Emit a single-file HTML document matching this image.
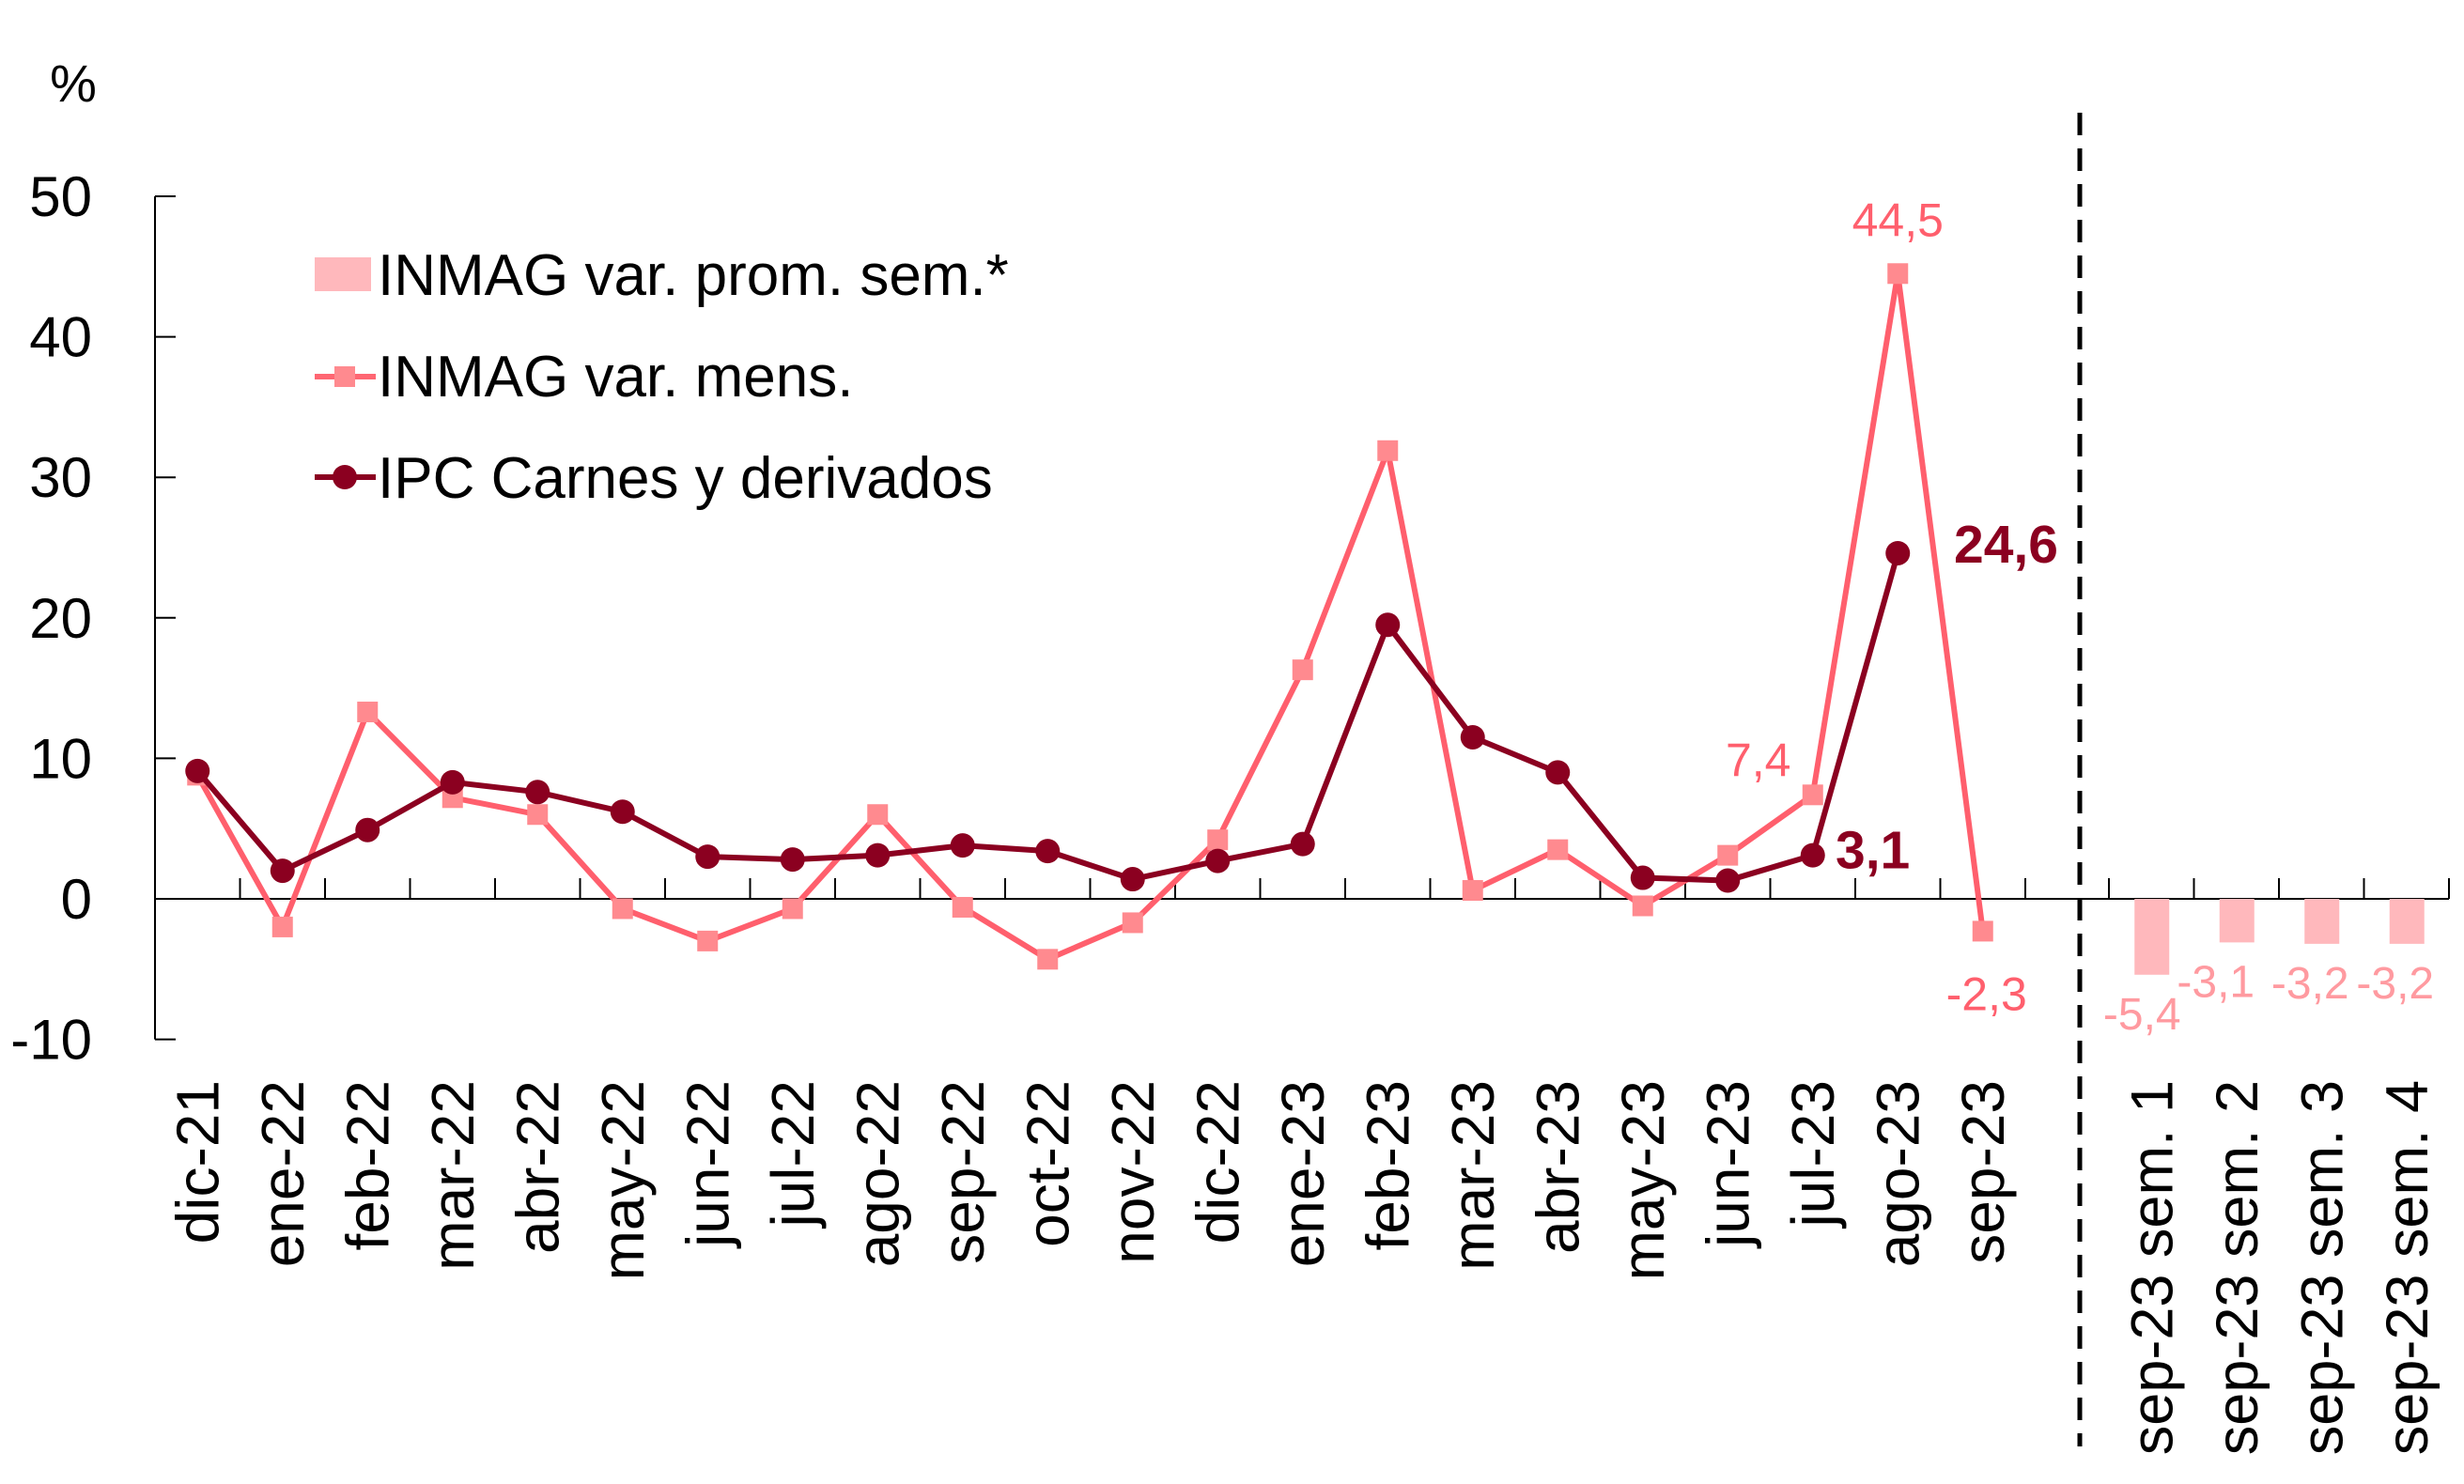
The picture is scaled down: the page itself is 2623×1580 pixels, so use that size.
<!DOCTYPE html>
<html><head><meta charset="utf-8">
<style>
html,body{margin:0;padding:0;background:#fff;}
svg{display:block;font-family:"Liberation Sans",sans-serif;}
</style></head>
<body>
<svg id="chart" width="2623" height="1580" viewBox="0 0 2623 1580" xmlns="http://www.w3.org/2000/svg">
<text x="78" y="108" font-size="56" text-anchor="middle">%</text>
<g id="axes"></g>
<g id="marks"></g>
<g>
  <rect x="335" y="274" width="60" height="36" fill="#ffb8bc"/>
  <text x="402" y="314" font-size="62">INMAG var. prom. sem.*</text>
  <line x1="335" y1="401" x2="400" y2="401" stroke="#ff6672" stroke-width="6"/>
  <rect x="356" y="390" width="22" height="22" fill="#ff8a8f"/>
  <text x="402" y="422" font-size="62">INMAG var. mens.</text>
  <line x1="335" y1="508" x2="400" y2="508" stroke="#8b0020" stroke-width="6"/>
  <circle cx="367" cy="508" r="13" fill="#8b0020"/>
  <text x="402" y="530" font-size="62">IPC Carnes y derivados</text>
</g>
</svg>
<script>
const months = ["dic-21","ene-22","feb-22","mar-22","abr-22","may-22","jun-22","jul-22","ago-22","sep-22","oct-22","nov-22","dic-22","ene-23","feb-23","mar-23","abr-23","may-23","jun-23","jul-23","ago-23","sep-23"];
const inmagMens = [8.8,-2.0,13.3,7.2,6.0,-0.7,-3.0,-0.7,6.0,-0.6,-4.3,-1.7,4.2,16.3,31.9,0.6,3.5,-0.5,3.1,7.4,44.5,-2.3];
const ipcCarnes = [9.1,2.0,4.9,8.3,7.6,6.2,3.0,2.8,3.1,3.8,3.4,1.4,2.7,3.9,19.5,11.5,9.0,1.5,1.3,3.1,24.6,null];
const weeks = ["sep-23 sem. 1","sep-23 sem. 2","sep-23 sem. 3","sep-23 sem. 4"];
const weeklyValues = [-5.4,-3.1,-3.2,-3.2];
const weeklyLabels = ["-5,4","-3,1","-3,2","-3,2"];
const yTicks = [50,40,30,20,10,0,-10];

const NS="http://www.w3.org/2000/svg";
const X0=165, STEP=90.5, Y0=957, PX=14.96;
const y=v=>Y0-v*PX;
const xm=i=>X0+STEP*(i+0.5);
const xw=i=>2245+STEP*(i+0.5);
function mk(tag,attrs,parent,text){const e=document.createElementNS(NS,tag);for(const k in attrs)e.setAttribute(k,attrs[k]);if(text!==undefined)e.textContent=text;parent.appendChild(e);return e;}
const axes=document.getElementById('axes'), marks=document.getElementById('marks');

let e=mk('line',{x1:X0,y1:y(50),x2:X0,y2:y(-10),stroke:'#000','stroke-width':2},axes);


yTicks.forEach(t=>{
  mk('line',{x1:X0,y1:y(t),x2:X0+22,y2:y(t),stroke:'#000','stroke-width':2},axes);
  const tx=mk('text',{x:98,y:y(t)+21,'font-size':60,'text-anchor':'end'},axes,String(t));
  
  
});
e=mk('line',{x1:X0,y1:Y0,x2:2607,y2:Y0,stroke:'#000','stroke-width':2},axes);


for(let k=1;k<=months.length;k++) mk('line',{x1:X0+STEP*k,y1:Y0,x2:X0+STEP*k,y2:Y0-22,stroke:'#000','stroke-width':2},axes);
for(let k=0;k<=weeks.length;k++) mk('line',{x1:2245+STEP*k,y1:Y0,x2:2245+STEP*k,y2:Y0-22,stroke:'#000','stroke-width':2},axes);
months.forEach((m,i)=>{
  const t=mk('text',{x:0,y:0,'font-size':64,'text-anchor':'end',transform:`translate(${xm(i)+22},1150) rotate(-90)`},axes,m);
  
  
});
weeks.forEach((m,i)=>{
  const t=mk('text',{x:0,y:0,'font-size':63,'text-anchor':'end',transform:`translate(${xw(i)+22},1150) rotate(-90)`},axes,m);
  
  
});
e=mk('line',{x1:2214,y1:120,x2:2214,y2:1540,stroke:'#000','stroke-width':5,'stroke-dasharray':'24,14'},axes);



weeklyValues.forEach((v,i)=>{
  const r=mk('rect',{x:xw(i)-18,y:Y0,width:37,height:y(v)-Y0,fill:'#ffb8bc'},marks);
  
  
  const t=mk('text',{x:xw(i)-(i==0?10:(i==1?22:12)),y:y(v)+(i==0?58:58),'font-size':48,'text-anchor':'middle',fill:'#ff9aa0'},marks,weeklyLabels[i]);
  
  
});
let d=inmagMens.map((v,i)=>(i?'L':'M')+xm(i)+','+y(v)).join(' ');
e=mk('path',{d:d,fill:'none',stroke:'#ff5f6d','stroke-width':6},marks);


inmagMens.forEach((v,i)=>{
  const r=mk('rect',{x:xm(i)-11,y:y(v)-11,width:22,height:22,fill:'#ff8a8f'},marks);
  
  
});
d='';ipcCarnes.forEach((v,i)=>{if(v!==null)d+=(d?'L':'M')+xm(i)+','+y(v)+' ';});
e=mk('path',{d:d,fill:'none',stroke:'#8b0020','stroke-width':6},marks);


ipcCarnes.forEach((v,i)=>{if(v===null)return;
  const c=mk('circle',{cx:xm(i),cy:y(v),r:13,fill:'#8b0020'},marks);
  
  
});
const fmt=v=>String(v).replace('.',',');
function ann(txt,x,yy,col,bold,size,anchor){const t=mk('text',{x:x,y:yy,'font-size':size,fill:col,'font-weight':bold?'bold':'normal','text-anchor':anchor||'middle'},marks,txt);

}
ann(fmt(inmagMens[20]),xm(20),y(inmagMens[20])-40,'#ff5f6d',false,50);
ann(fmt(inmagMens[19]),xm(19)-58,y(inmagMens[19])-20,'#ff5f6d',false,50);
ann(fmt(inmagMens[21]),xm(21)+4,y(inmagMens[21])+84,'#ff5f6d',false,50);
ann(fmt(ipcCarnes[20]),2080,y(ipcCarnes[20])+10,'#8b0020',true,57,'start');
ann(fmt(ipcCarnes[19]),1954,y(ipcCarnes[19])+14,'#8b0020',true,57,'start');
</script>
</body></html>
